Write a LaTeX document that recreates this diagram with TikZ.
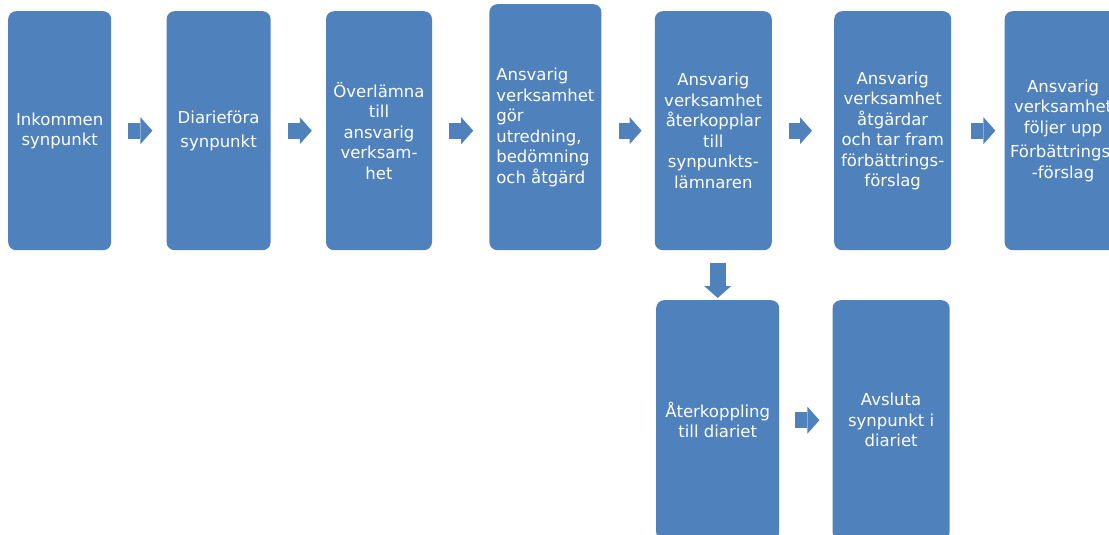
\documentclass[tikz,border=0pt]{standalone}
\usepackage{fontspec}
\setmainfont{DejaVu Sans}
\usetikzlibrary{arrows.meta,positioning}
\definecolor{stepblue}{HTML}{4F81BD}

\begin{document}
\begin{tikzpicture}[
      x=1pt, y=-1pt,
      stepbox/.style={fill=stepblue, rounded corners=8pt, minimum height=239pt,
          text=white, align=center, inner sep=2pt,
          font=\fontsize{16.5}{20.5}\selectfont},
      blockarr/.style={stepblue, line width=16pt, shorten <=17pt,
          -{Triangle[length=12pt, width=27pt, line width=0pt]}},
    ]
    \useasboundingbox (0,0) rectangle (1109,535);
    \clip (0,0) rectangle (1109,535);

    % top row
    \node[stepbox, minimum width=103pt, anchor=north west] (inkommen) at (8,11)
      {Inkommen\\synpunkt};
    \node[stepbox, minimum width=104pt, right=55pt of inkommen] (diarie)
      {Diarieföra\\[4pt]synpunkt};
    \node[stepbox, minimum width=106pt, right=55pt of diarie] (overlamna)
      {Överlämna\\till\\ansvarig\\verksam-\\het};
    \node[stepbox, minimum width=112pt, minimum height=246pt, align=left,
        right=57pt of overlamna.south east, anchor=south west] (utredning)
      {Ansvarig\\verksamhet\\gör\\utredning,\\bedömning\\och åtgärd};
    \node[stepbox, minimum width=117pt, right=53pt of utredning.south east,
        anchor=south west] (aterkopplar)
      {Ansvarig\\verksamhet\\återkopplar\\till\\synpunkts-\\lämnaren};
    \node[stepbox, minimum width=117pt, right=62pt of aterkopplar] (atgardar)
      {Ansvarig\\verksamhet\\åtgärdar\\och tar fram\\förbättrings-\\förslag};
    \node[stepbox, minimum width=117pt, right=53pt of atgardar] (foljer)
      {Ansvarig\\verksamhet\\följer upp\\[4pt]Förbättrings-\\-förslag};

    % bottom row
    \node[stepbox, minimum width=123pt, minimum height=240pt, anchor=north west]
      (aterkoppling) at (656,300) {Återkoppling\\till diariet};
    \node[stepbox, minimum width=117pt, minimum height=240pt,
        right=53pt of aterkoppling] (avsluta) {Avsluta\\synpunkt i\\diariet};

    % arrows
    \draw[blockarr, shorten >=14pt] (inkommen) -- (diarie);
    \draw[blockarr, shorten >=14pt] (diarie) -- (overlamna);
    \draw[blockarr, shorten >=16pt] (overlamna.east) -- (overlamna.east -| utredning.west);
    \draw[blockarr, shorten >=13pt] (utredning.east |- aterkopplar.west) -- (aterkopplar.west);
    \draw[blockarr, shorten >=22pt] (aterkopplar) -- (atgardar);
    \draw[blockarr, shorten <=20pt, shorten >=9pt] (atgardar) -- (foljer);
    \draw[blockarr, shorten <=13pt, shorten >=2pt] (aterkopplar.south -| aterkoppling.north)
      -- (aterkoppling.north);
    \draw[blockarr, shorten <=16pt, shorten >=13pt] (aterkoppling) -- (avsluta);
  \end{tikzpicture}
\end{document}
